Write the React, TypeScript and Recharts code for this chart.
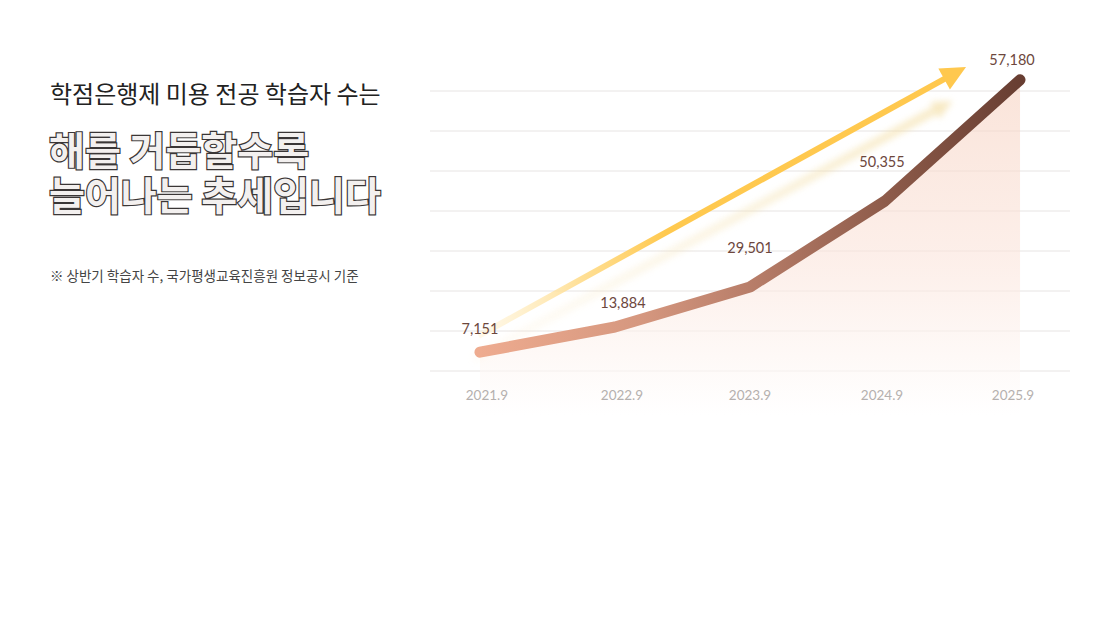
import React from 'react';
import { ComposedChart, Line, Area, XAxis, YAxis, CartesianGrid, ReferenceLine, LabelList } from 'recharts';

// x축 (연도.월)
const years = ['2021.9', '2022.9', '2023.9', '2024.9', '2025.9'];
// 실제 학습자 수 (라벨로 표시)
const learners = [7151, 13884, 29501, 50355, 57180];
// 그림 속 선의 높이 (가로 눈금선 한 칸 = 1)
const drawnLevel = [0.47, 1.1, 2.1, 4.25, 7.28];
const gridTicks = [0, 1, 2, 3, 4, 5, 6, 7];
// 장식용 화살표: [연도 순번, 눈금 높이]
const arrowTail = [-0.01, 0.88];
const arrowTip = [3.6, 7.6];
const glowTail = [-0.05, 0.3];
const glowTip = [3.5, 6.75];

const data = years.map((y, i) => ({ idx: i, year: y, level: drawnLevel[i], learners: learners[i] }));

// label nudges, px
const labelDx = [0, 8, 0, -3, -8];
const labelLift = [24, 25, 40, 40, 20];
const tickDx = [7, 7, 0, -3, -7];

const Arrow = (props: any) => {
  const { x1, y1, x2, y2, grad, head, width, fill, filter, opacity } = props;
  const ang = Math.atan2(y2 - y1, x2 - x1);
  const bx = x2 - head * Math.cos(ang);
  const by = y2 - head * Math.sin(ang);
  const hw = head * 0.48;
  const px = -Math.sin(ang) * hw;
  const py = Math.cos(ang) * hw;
  return (
    <g filter={filter} opacity={opacity}>
      <line x1={x1} y1={y1} x2={bx + Math.cos(ang) * 2} y2={by + Math.sin(ang) * 2} stroke={`url(#${grad})`} strokeWidth={width} />
      <polygon points={`${x2},${y2} ${bx + px},${by + py} ${bx - px},${by - py}`} fill={fill} />
    </g>
  );
};

const YearTick = (props: any) => {
  const { x, y, payload } = props;
  const i = payload.value;
  return (
    <text x={x + tickDx[i]} y={y - 28} textAnchor="middle" dominantBaseline="central" fill="#b5b0ae" fontSize={13.5} fontFamily="Lato, 'Noto Sans', sans-serif">
      {years[i]}
    </text>
  );
};

const ValueLabel = (props: any) => {
  const { x, y, value, index } = props;
  return (
    <text x={x + labelDx[index]} y={y - labelLift[index]} textAnchor="middle" dominantBaseline="central" fill="#6d473d" fontSize={14.5} fontFamily="Lato, 'Noto Sans', sans-serif">
      {Number(value).toLocaleString('en-US')}
    </text>
  );
};

const App: React.FC = () => {
  return (
    <div style={{ position: 'absolute', left: 0, top: 0, width: 1100, height: 621, background: '#fff', overflow: 'hidden' }}>
      <div style={{ position: 'absolute', left: 0, top: 0 }}>
        <ComposedChart width={1100} height={621} data={data} margin={{ top: 51, right: 30, left: 430, bottom: 176 }}>
          <defs>
            <linearGradient id="areaFill" x1="0" y1="0" x2="0" y2="1">
              <stop offset="0%" stopColor="#f7d2c1" />
              <stop offset="55%" stopColor="#fbe5dc" />
              <stop offset="100%" stopColor="#ffffff" />
            </linearGradient>
            <linearGradient id="lineStroke" x1="0" y1="0" x2="1" y2="0">
              <stop offset="0%" stopColor="#eeab8f" />
              <stop offset="30%" stopColor="#d5977f" />
              <stop offset="52%" stopColor="#b57b67" />
              <stop offset="76%" stopColor="#8c5a49" />
              <stop offset="100%" stopColor="#683e32" />
            </linearGradient>
            <linearGradient id="arrowStroke" x1="0" y1="0" x2="1" y2="0">
              <stop offset="0%" stopColor="#fff3d6" stopOpacity={0.5} />
              <stop offset="22%" stopColor="#ffdc8a" stopOpacity={0.9} />
              <stop offset="40%" stopColor="#ffc94f" />
              <stop offset="100%" stopColor="#ffc84e" />
            </linearGradient>
            <linearGradient id="glowStroke" x1="0" y1="0" x2="1" y2="0">
              <stop offset="0%" stopColor="#fbeccc" stopOpacity={0.2} />
              <stop offset="60%" stopColor="#f5e3b4" stopOpacity={0.7} />
              <stop offset="100%" stopColor="#f3dc9e" stopOpacity={0.9} />
            </linearGradient>
            <filter id="glowBlur" x="-20%" y="-20%" width="140%" height="140%">
              <feGaussianBlur stdDeviation="3" />
            </filter>
          </defs>
          <CartesianGrid vertical={false} stroke="#e7e4e3" horizontalValues={gridTicks} />
          <XAxis type="number" dataKey="idx" domain={[-0.37, 4.37]} ticks={[0, 1, 2, 3, 4]} height={30} axisLine={false} tickLine={false} tick={<YearTick />} interval={0} />
          <YAxis type="number" domain={[-1.1, 8]} ticks={gridTicks} hide width={0} />
          <Area type="linear" dataKey="level" baseValue="dataMin" fill="url(#areaFill)" stroke="none" isAnimationActive={false} />
          <ReferenceLine
            segment={[{ x: glowTail[0], y: glowTail[1] }, { x: glowTip[0], y: glowTip[1] }]}
            ifOverflow="visible"
            shape={(p: any) => <Arrow {...p} grad="glowStroke" head={20} width={9} fill="#f3dc9e" filter="url(#glowBlur)" opacity={0.6} />}
          />
          <ReferenceLine
            segment={[{ x: arrowTail[0], y: arrowTail[1] }, { x: arrowTip[0], y: arrowTip[1] }]}
            ifOverflow="visible"
            shape={(p: any) => <Arrow {...p} grad="arrowStroke" head={25} width={6} fill="#ffc84e" />}
          />
          <Line type="linear" dataKey="level" stroke="url(#lineStroke)" strokeWidth={11} strokeLinecap="round" strokeLinejoin="round" dot={false} activeDot={false} isAnimationActive={false}>
            <LabelList dataKey="learners" content={<ValueLabel />} />
          </Line>
        </ComposedChart>
      </div>

      <div style={{ position: 'absolute', left: 50, top: 77, fontFamily: "'Noto Sans CJK KR', sans-serif", fontSize: 24, lineHeight: '32px', color: '#222', whiteSpace: 'nowrap' }}>
        학점은행제 미용 전공 학습자 수는
      </div>
      <div style={{ position: 'absolute', left: 49, top: 126, fontFamily: "'Noto Sans CJK KR', sans-serif", fontWeight: 700, fontSize: 39, lineHeight: '45px', color: '#f3f0ef', WebkitTextStroke: '2.4px #3a3636', paintOrder: 'stroke fill', whiteSpace: 'nowrap' } as React.CSSProperties}>
        <div style={{ height: 45 }}>해를 거듭할수록</div>
        <div style={{ height: 45 }}>늘어나는 추세입니다</div>
      </div>
      <div style={{ position: 'absolute', left: 50, top: 265, fontFamily: "'Noto Sans CJK KR', sans-serif", fontSize: 13.5, lineHeight: '20px', color: '#444', whiteSpace: 'nowrap' }}>
        ※ 상반기 학습자 수, 국가평생교육진흥원 정보공시 기준
      </div>
    </div>
  );
};

export default App;
